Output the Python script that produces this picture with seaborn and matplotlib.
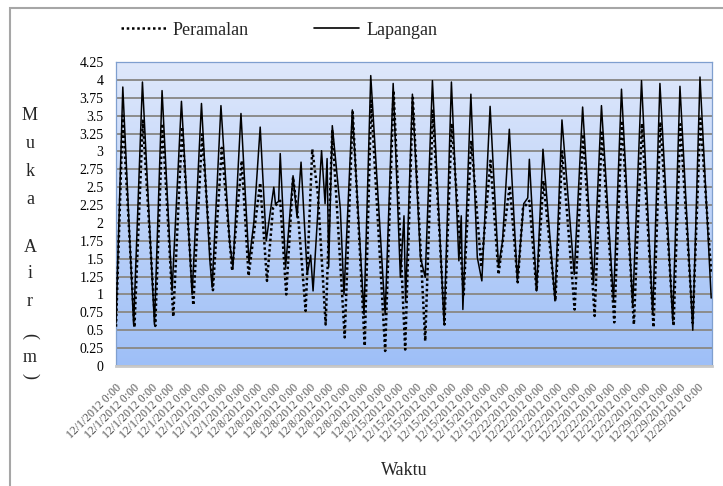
import numpy as np
import pandas as pd
import matplotlib
matplotlib.use("Agg")
import matplotlib.pyplot as plt
from matplotlib.colors import LinearSegmentedColormap
from matplotlib.lines import Line2D
from matplotlib.patches import Rectangle
import seaborn as sns

# hours counted from 12/1/2012 0:00, water level in m
obs_hour = [0, 8.5, 22, 33, 48, 57.5, 70, 81.7, 95, 106.7, 117, 120, 131, 142, 146,
            156, 166, 172, 180, 187.5, 197, 199, 203, 205, 211.7, 221, 226, 231,
            238.7, 243, 246, 256.6, 261, 263.5, 265.5, 270, 280, 284.6, 295, 309.6,
            318, 336, 346, 355, 359.5, 361.5, 370, 380, 386, 395, 409.6, 418.7,
            428, 431, 433, 443, 451, 456.7, 467, 477.5, 482.5, 491, 501, 509, 514,
            516, 525, 533, 548, 556.7, 572, 582.5, 596, 606, 621, 631, 645, 656,
            670, 679, 695, 704, 720, 729, 743]
obs_level = [0.60, 3.90, 0.58, 3.97, 0.58, 3.85, 1.05, 3.70, 1.00, 3.67, 1.50, 1.10,
             3.64, 1.71, 1.38, 3.53, 1.45, 2.00, 3.34, 1.75, 2.50, 2.27, 2.30, 2.97,
             1.38, 2.66, 2.08, 2.85, 1.28, 1.55, 1.05, 3.01, 2.27, 2.90, 1.38, 3.36,
             2.20, 1.00, 3.58, 0.72, 4.06, 0.72, 3.95, 1.24, 2.10, 0.90, 3.80, 1.52,
             1.24, 3.99, 0.58, 3.97, 1.47, 2.10, 0.79, 3.80, 1.52, 1.19, 3.63, 1.38,
             1.75, 3.31, 1.19, 2.27, 2.35, 2.89, 1.05, 3.03, 0.91, 3.44, 1.28, 3.62,
             1.14, 3.64, 0.91, 3.87, 0.84, 3.99, 0.72, 3.95, 0.63, 3.91, 0.50, 4.04,
             0.95]

fc_hour = [0, 8.5, 23, 33.5, 49, 58, 71.5, 82.5, 96.5, 107.5, 121, 132, 145, 157,
           165.5, 180, 188.5, 196, 205, 212.5, 221, 228, 236.7, 245, 252, 261.7,
           270, 285.5, 295.5, 310.5, 318.5, 336, 346.5, 361, 370.5, 386, 395.5,
           410, 419, 434, 443.5, 456, 467.5, 477.5, 491.5, 501.5, 508, 516, 525,
           533.5, 548.5, 557, 572.5, 583, 597.5, 606.5, 622, 631.5, 646.5, 656.5,
           671, 679.5, 696, 704.5, 720, 729.5, 743]
fc_level = [0.55, 3.50, 0.54, 3.43, 0.56, 3.39, 0.69, 3.34, 0.85, 3.24, 1.06, 3.05,
            1.33, 2.87, 1.26, 2.56, 1.19, 2.21, 2.31, 1.00, 2.64, 2.00, 0.77, 3.03,
            2.40, 0.58, 3.30, 0.40, 3.55, 0.28, 3.71, 0.21, 3.85, 0.23, 3.75, 0.35,
            3.57, 0.58, 3.39, 1.00, 3.15, 1.38, 2.87, 1.28, 2.52, 1.17, 2.20, 2.31,
            1.05, 2.59, 0.91, 3.00, 0.79, 3.24, 0.70, 3.29, 0.61, 3.43, 0.58, 3.39,
            0.54, 3.41, 0.56, 3.38, 0.60, 3.46, 1.30]

tick_labels = (["12/1/2012 0:00"] * 8 + ["12/8/2012 0:00"] * 8 +
               ["12/15/2012 0:00"] * 7 + ["12/22/2012 0:00"] * 8 +
               ["12/29/2012 0:00"] * 3)
week_bounds = [168, 336, 504, 672]
y_ticks = [0, 0.25, 0.5, 0.75, 1, 1.25, 1.5, 1.75, 2, 2.25, 2.5, 2.75, 3, 3.25,
           3.5, 3.75, 4, 4.25]

df_obs = pd.DataFrame({"jam": obs_hour, "muka_air": obs_level})
df_fc = pd.DataFrame({"jam": fc_hour, "muka_air": fc_level})

sns.set_theme(style="white")
plt.rcParams["font.family"] = ["Liberation Serif", "DejaVu Serif"]

W, H = 723, 486
fig = plt.figure(figsize=(W / 100, H / 100), dpi=100)
ax = fig.add_axes([116 / W, 1 - 366 / H, (712 - 116) / W, (366 - 62) / H])

# plot area gradient
grad = LinearSegmentedColormap.from_list("bg", ["#9ebff7", "#dfe8fb"])
ax.imshow(np.linspace(0, 1, 256).reshape(-1, 1), cmap=grad, origin="lower",
          extent=[0, 1, 0, 1], transform=ax.transAxes, aspect="auto", zorder=0)

sns.lineplot(data=df_fc, x="jam", y="muka_air", ax=ax, color="black",
             lw=1.8, linestyle=(0, (1, 1.1)), zorder=3)
sns.lineplot(data=df_obs, x="jam", y="muka_air", ax=ax, color="black",
             lw=1.1, zorder=4)

ax.set_xlim(0, 744)
ax.set_ylim(0, 4.25)
ax.set_yticks(y_ticks)
ax.set_yticklabels([f"{v:g}" for v in y_ticks])
ax.grid(axis="y", color="#8c8c8c", lw=1.4, zorder=1)
ax.grid(axis="x", visible=False)

tick_pos = [22 * i for i in range(len(tick_labels))]
ax.set_xticks(tick_pos)
ax.set_xticklabels(tick_labels, rotation=45, ha="right", rotation_mode="anchor",
                   fontsize=8.5, color="#555555")
ax.set_xticks(week_bounds, minor=True)
ax.tick_params(axis="x", which="major", length=0, pad=11)
ax.tick_params(axis="x", which="minor", length=7, width=1.5, color="#d5d5d5",
               direction="out")
ax.tick_params(axis="y", length=0, pad=9, labelsize=10, labelcolor="black")
ax.set_xlabel("")
ax.set_ylabel("")

for side in ["left", "top", "right"]:
    ax.spines[side].set_color("#7f9fcf")
    ax.spines[side].set_linewidth(0.9)
ax.spines["bottom"].set_color("#c9c9c9")
ax.spines["bottom"].set_linewidth(2)

# stacked y-axis title
letters = ["M", "u", "k", "a", "A", "i", "r", "(", "m", ")"]
letter_y = [115, 143, 172, 199, 247, 273, 301, 336, 358, 376]
for ch, yy in zip(letters, letter_y):
    rot = -90 if ch in "()" else 0
    fig.text(30 / W, 1 - yy / H, ch, ha="center", va="center", fontsize=13,
             rotation=rot)

fig.text(404 / W, 1 - 470 / H, "Waktu", ha="center", va="center", fontsize=13)

handles = [Line2D([], [], color="black", lw=1.8, linestyle=(0, (1, 1.1))),
           Line2D([], [], color="black", lw=1.2)]
fig.legend(handles, ["Peramalan", "Lapangan"], loc="center",
           bbox_to_anchor=(279 / W, 1 - 30 / H), ncol=2, frameon=False,
           fontsize=13, handlelength=2.5, handletextpad=0.4, columnspacing=3.6)

fig.add_artist(Rectangle((10 / W, -0.1), 1.2, 1 - 8 / H + 0.1,
                         transform=fig.transFigure, fill=False,
                         ec="#a6a6a6", lw=1.5))

fig.savefig("out.png", dpi=100)
